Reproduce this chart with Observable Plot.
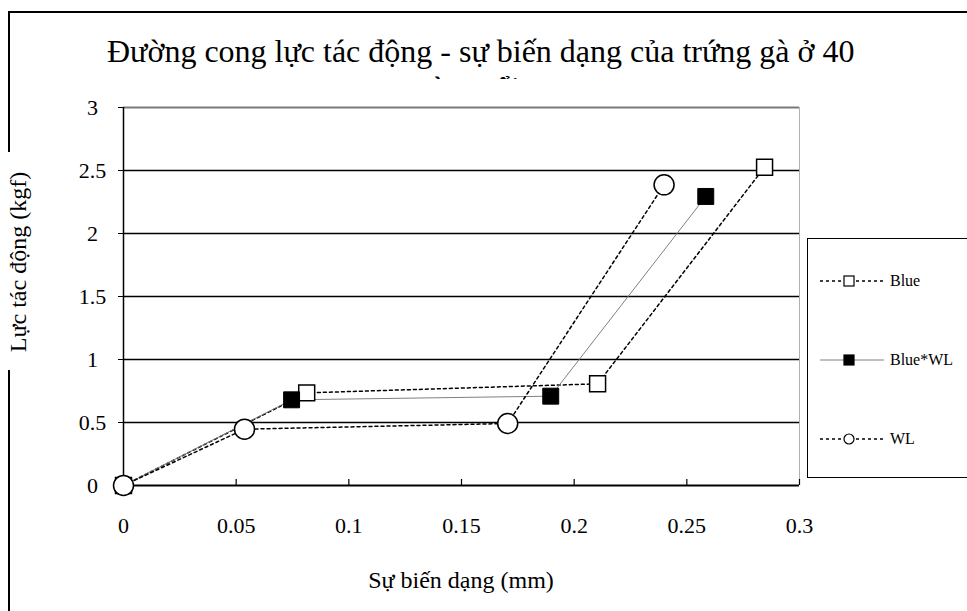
<!DOCTYPE html>
<html>
<head>
<meta charset="utf-8">
<script src="https://cdn.jsdelivr.net/npm/d3@7"></script>
<script src="https://cdn.jsdelivr.net/npm/@observablehq/plot@0.6"></script>
<style>
  html, body { margin:0; padding:0; background:#fff; overflow:hidden; }
  #wrap { position:relative; width:967px; height:611px; overflow:hidden; font-family:"Liberation Serif", "Times New Roman", serif; color:#000; }
  #chart { position:absolute; left:0; top:0; }
  #chart svg text { font-family:"Liberation Serif", "Times New Roman", serif !important; font-size:22px !important; fill:#000; }
  .abs { position:absolute; white-space:nowrap; }
  .legend { position:absolute; left:807px; top:238px; width:175px; height:240px; border:1px solid #000; background:#fff; box-sizing:border-box; }
  .item { position:absolute; left:12px; height:20px; display:flex; align-items:center; font-size:16px; }
  .item svg { display:block; margin-right:6px; }
</style>
</head>
<body>
<div id="wrap">
  <div class="abs" style="left:8px;top:11px;width:970px;height:2px;background:#000"></div>
  <div class="abs" style="left:8px;top:11px;width:2px;height:141px;background:#000"></div>
  <div class="abs" style="left:8px;top:370px;width:2px;height:241px;background:#000"></div>
  <div id="title1" class="abs" style="left:107px;top:33px;font-size:32px;line-height:36px">Đường cong lực tác động - sự biến dạng của trứng gà ở 40</div>
  <div class="abs" style="left:400px;top:74px;height:5px;width:130px;overflow:hidden;">
    <div style="font-size:32px;line-height:36px;margin-top:-4px">ngày tuổi</div>
  </div>
  <div id="chart"></div>
  <div class="abs" id="ylab" style="left:18px;top:262px;font-size:24px;line-height:28px;transform:translate(-50%,-50%) rotate(-90deg);">Lực tác động (kgf)</div>
  <div class="abs" id="xlab" style="left:461px;top:580px;font-size:24px;line-height:28px;transform:translate(-50%,-50%);">Sự biến dạng (mm)</div>
  <div class="legend" id="legend"></div>
</div>
<script>
// ---- data ----
const seriesNames = ["Blue", "Blue*WL", "WL"];
const blueX = [0, 0.0813, 0.2104, 0.2845];
const blueY = [0, 0.735, 0.807, 2.526];
const blueWlX = [0, 0.0746, 0.1896, 0.2584];
const blueWlY = [0, 0.680, 0.709, 2.294];
const wlX = [0, 0.0537, 0.1705, 0.2399];
const wlY = [0, 0.447, 0.492, 2.386];
const xTicks = [0, 0.05, 0.1, 0.15, 0.2, 0.25, 0.3];
const yTicks = [0, 0.5, 1, 1.5, 2, 2.5, 3];
const yGrid = [0.5, 1, 1.5, 2, 2.5];

const toRows = (xs, ys) => xs.map((x, i) => ({x, y: ys[i]}));
const blue = toRows(blueX, blueY);
const blueWl = toRows(blueWlX, blueWlY);
const wl = toRows(wlX, wlY);

const styles = {
  "Blue": {line: {stroke: "#000", strokeWidth: 1.5, strokeDasharray: "3,3"}, dot: {symbol: "square", r: 9, fill: "#fff", stroke: "#000", strokeWidth: 1.5}},
  "Blue*WL": {line: {stroke: "#808080", strokeWidth: 1}, dot: {symbol: "square", r: 9, fill: "#000", stroke: "#000", strokeWidth: 1}},
  "WL": {line: {stroke: "#000", strokeWidth: 1.5, strokeDasharray: "3,3"}, dot: {symbol: "circle", r: 10, fill: "#fff", stroke: "#000", strokeWidth: 1.5}}
};
const rowsBy = {"Blue": blue, "Blue*WL": blueWl, "WL": wl};

const chart = Plot.plot({
  width: 967,
  height: 611,
  marginTop: 107,
  marginBottom: 126,
  marginLeft: 123,
  marginRight: 168,
  x: {domain: [0, 0.3]},
  y: {domain: [0, 3]},
  style: {fontFamily: "'Liberation Serif', 'Times New Roman', serif", fontSize: "22px", background: "transparent", color: "#000"},
  marks: [
    Plot.ruleY(yGrid, {stroke: "#000", strokeWidth: 1.5}),
    Plot.ruleY([3], {stroke: "#7a7a7a", strokeWidth: 2}),
    Plot.ruleX([0.3], {stroke: "#b0b0b0", strokeWidth: 1}),
    Plot.ruleX(xTicks.slice(1), {x: d => d, y1: 0, y2: 0.048, stroke: "#000", strokeWidth: 1.2}),
    Plot.axisY({ticks: yTicks, tickSize: 5, tickPadding: 26, textAnchor: "middle", label: null, tickFormat: d => String(d), fontSize: 22}),
    Plot.axisX({ticks: xTicks, tickSize: 0, tickPadding: 32, label: null, tickFormat: d => String(d), fontSize: 22}),
    Plot.ruleX([0], {stroke: "#000", strokeWidth: 1.5}),
    Plot.ruleY([0], {stroke: "#000", strokeWidth: 2}),
    ...seriesNames.map(n => Plot.line(rowsBy[n], {x: "x", y: "y", ...styles[n].line})),
    ...seriesNames.map(n => Plot.dot(rowsBy[n], {x: "x", y: "y", ...styles[n].dot}))
  ]
});
document.getElementById("chart").appendChild(chart);

// legend
const legend = document.getElementById("legend");
const tops = [32, 111, 190];
seriesNames.forEach((n, i) => {
  const s = styles[n];
  const item = document.createElement("div");
  item.className = "item";
  item.style.top = tops[i] + "px";
  const svg = d3.create("svg").attr("width", 64).attr("height", 20);
  svg.append("line").attr("x1", 0).attr("x2", 64).attr("y1", 10).attr("y2", 10)
    .attr("stroke", s.line.stroke).attr("stroke-width", s.line.strokeWidth)
    .attr("stroke-dasharray", s.line.strokeDasharray || null);
  if (s.dot.symbol === "circle") {
    svg.append("circle").attr("cx", 29).attr("cy", 10).attr("r", 5).attr("fill", s.dot.fill).attr("stroke", s.dot.stroke).attr("stroke-width", 1.2);
  } else {
    svg.append("rect").attr("x", 24).attr("y", 5).attr("width", 10).attr("height", 10).attr("fill", s.dot.fill).attr("stroke", s.dot.stroke).attr("stroke-width", 1.2);
  }
  item.appendChild(svg.node());
  const t = document.createElement("span");
  t.textContent = n;
  item.appendChild(t);
  legend.appendChild(item);
});
</script>
</body>
</html>
